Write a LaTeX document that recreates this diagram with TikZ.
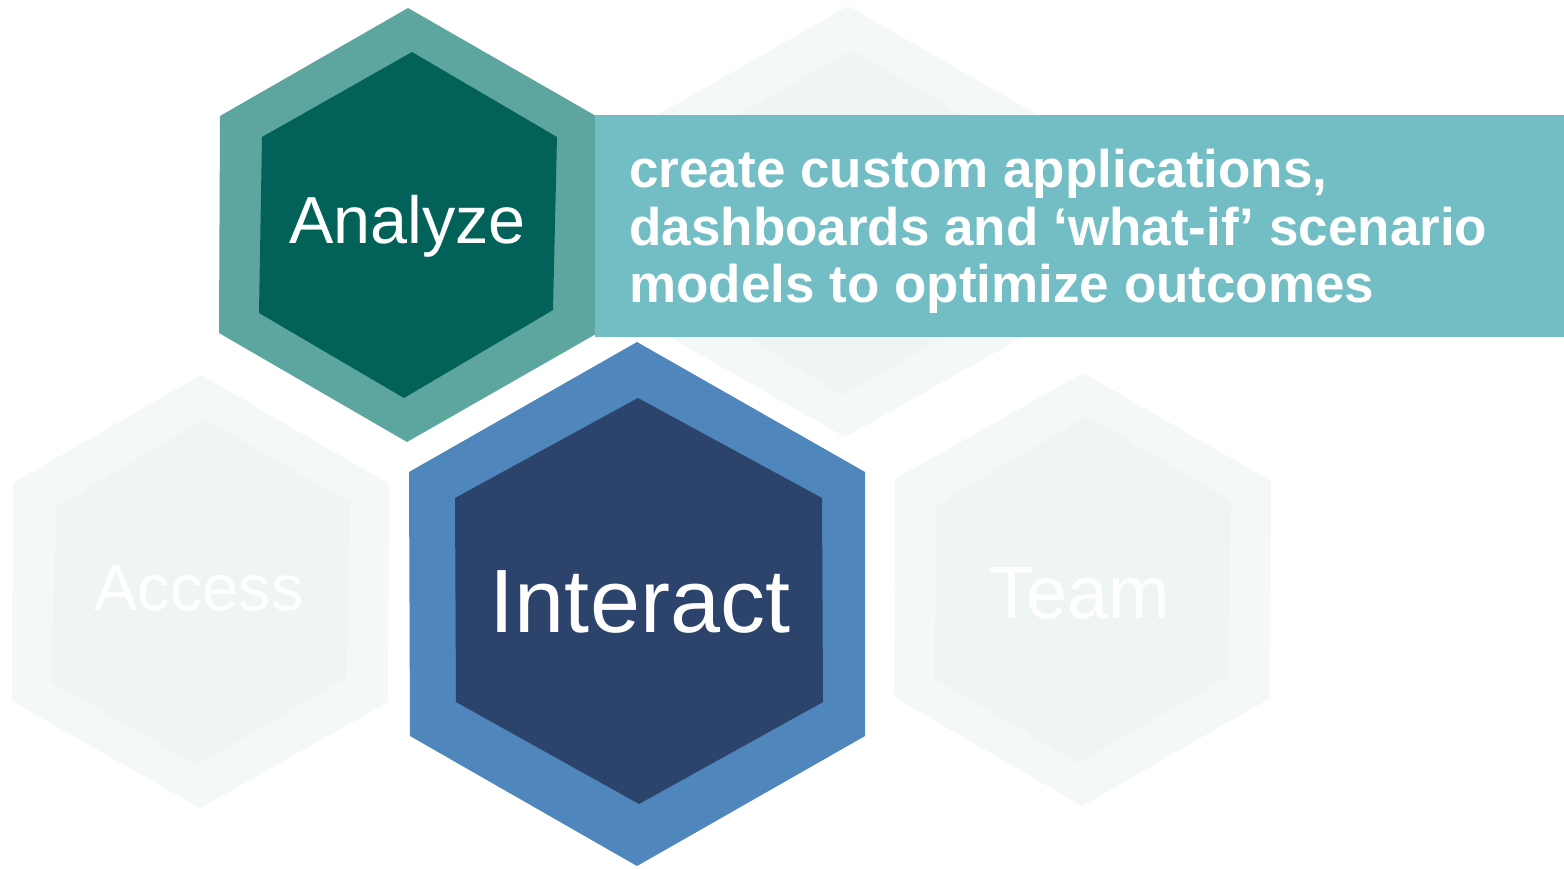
\documentclass[tikz,border=0pt]{standalone}
\usepackage{fontspec}
\setmainfont{Liberation Sans}
\definecolor{anaOuter}{HTML}{5DA6A0}
\definecolor{anaInner}{HTML}{02625A}
\definecolor{bannerCol}{HTML}{73BEC4}
\definecolor{intOuter}{HTML}{4F86BB}
\definecolor{intInner}{HTML}{2C446B}
\definecolor{faintOuter}{HTML}{F4F8F9}
\definecolor{faintInner}{HTML}{EFF5F5}
\tikzset{
  hexlabel/.style={text=white, inner sep=0pt, anchor=base},
  bannertext/.style={text=white, inner sep=0pt, anchor=base west, font=\fontsize{26.5pt}{28.75pt}\selectfont\bfseries},
}
\begin{document}
\begin{tikzpicture}[x=0.5pt,y=-0.5pt]
\useasboundingbox (0,0) rectangle (1564,868);
\fill[white] (0,0) rectangle (1564,868);
% faint top-right hexagon (behind banner)
\fill[faintOuter] (848,6) -- (1036,114) -- (1035,330) -- (845,437) -- (657,330) -- (659,114) -- cycle;
\fill[faintInner] (852,50) -- (998,136) -- (994,309) -- (843,395) -- (698,309) -- (701,136) -- cycle;
% Access
\fill[faintOuter] (201,375) -- (389,484) -- (388,702) -- (200,808) -- (12,701) -- (13,483) -- cycle;
\fill[faintInner] (205,419) -- (350,503) -- (346,678) -- (197,765) -- (52,682) -- (56,507) -- cycle;
\node[hexlabel, font=\fontsize{32.5pt}{36pt}\selectfont] (access) at (199,610) {Access};
% Team
\fill[faintOuter] (1083,373) -- (1271,481) -- (1270,698) -- (1082,806) -- (894,697) -- (895,479) -- cycle;
\fill[faintInner] (1087,416) -- (1231,501) -- (1228,676) -- (1078,763) -- (934,678) -- (937,505) -- cycle;
\node[hexlabel, font=\fontsize{37pt}{40pt}\selectfont] (team) at (1080,618) {Team};
% Analyze
\fill[anaOuter] (408,8) -- (596,116) -- (596,334) -- (407,442) -- (219,333) -- (220,116) -- cycle;
\fill[anaInner] (412,52) -- (557,137) -- (553,310) -- (404,398) -- (259,313) -- (262,137) -- cycle;
\node[hexlabel, font=\fontsize{33.3pt}{38pt}\selectfont] (analyze) at (407.5,243) {Analyze};
% banner
\fill[bannerCol] (595,115) rectangle (1564,337);
\node[bannertext] (l1) at (629,187) {create custom applications,};
\node[bannertext] (l2) at (629,245) {dashboards and ‘what-if’ scenario};
\node[bannertext] (l3) at (629,302) {models to optimize outcomes};
% Interact
\fill[intOuter] (637,342) -- (865,472) -- (865,736) -- (637,866) -- (410,736) -- (409,472) -- cycle;
\fill[intInner] (638,398) -- (822,498) -- (823,702) -- (639,804) -- (456,702) -- (455,498) -- cycle;
\node[hexlabel, font=\fontsize{45pt}{50pt}\selectfont] (interact) at (640,632) {Interact};
\end{tikzpicture}
\end{document}
